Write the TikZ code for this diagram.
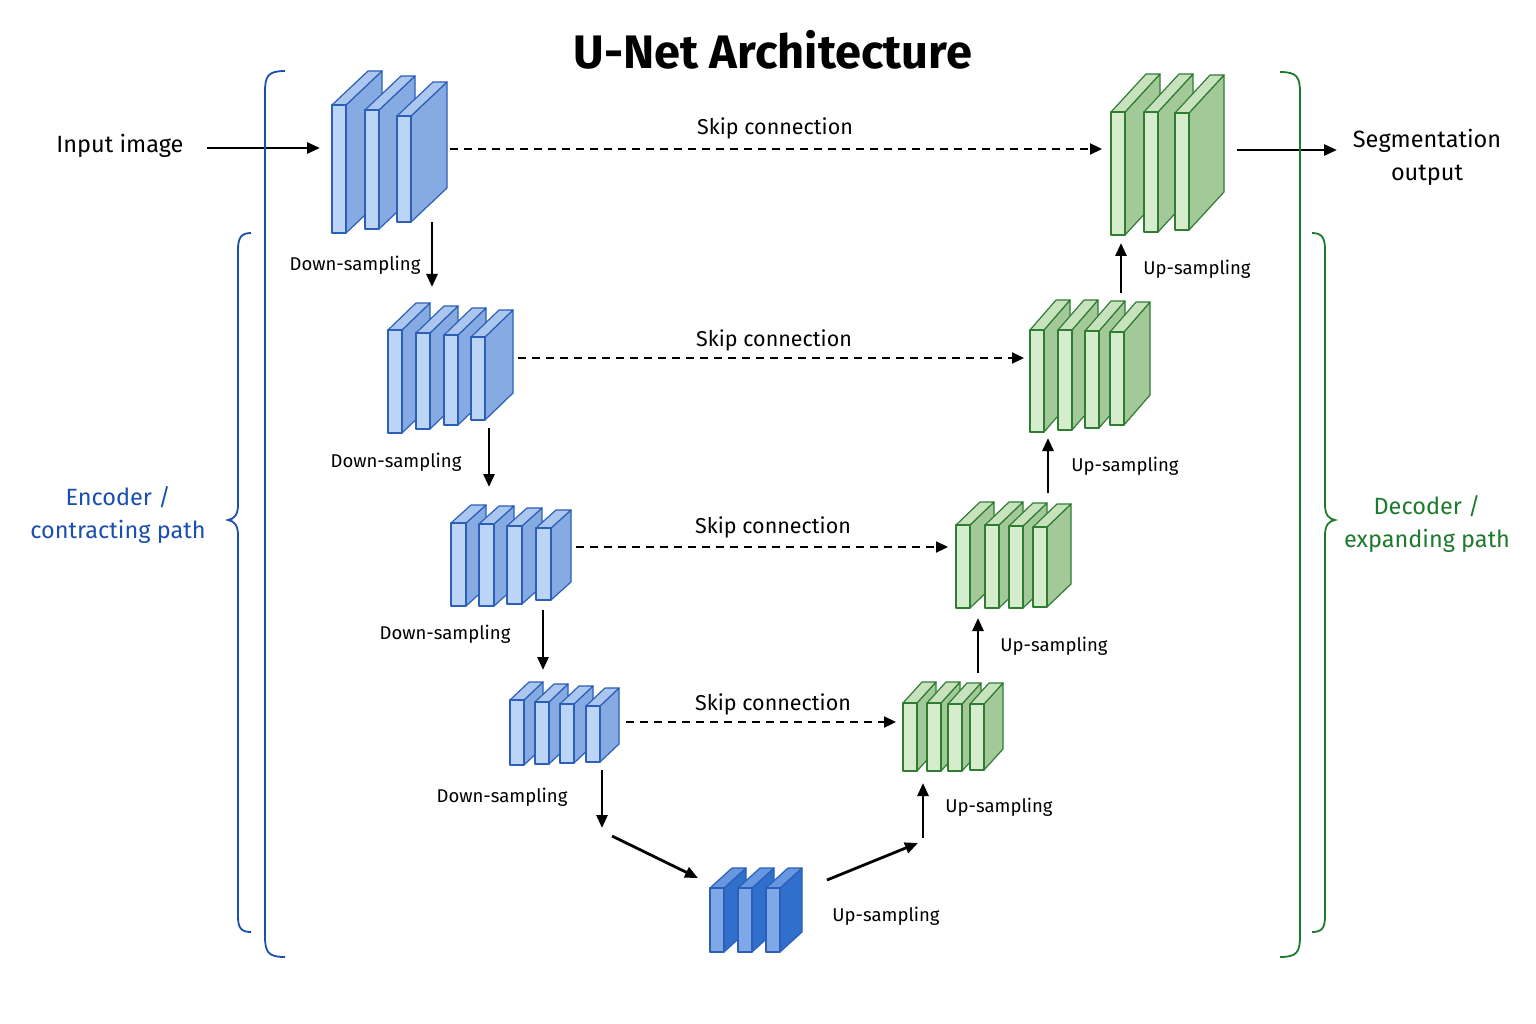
\documentclass[tikz,border=0pt]{standalone}
\usepackage{fontspec}
\setmainfont{Fira Sans}
\usetikzlibrary{arrows.meta}
\definecolor{bF}{HTML}{BCD4F5}\definecolor{bS}{HTML}{86AAE2}\definecolor{bE}{HTML}{2B5FB8}
\definecolor{dF}{HTML}{7FA8E8}\definecolor{dS}{HTML}{3070CC}
\definecolor{gF}{HTML}{D6EDCD}\definecolor{gS}{HTML}{A3C998}\definecolor{gE}{HTML}{2E7D32}
\definecolor{encT}{HTML}{1A4FB0}\definecolor{decT}{HTML}{1E7A2E}
% \slabX{x}{top}{bot}{fw}{dx}{dy}{front}{side}{edge}
\newcommand{\slabX}[9]{%
 \filldraw[draw=#9,line width=1.2pt,fill=#8,line join=round] (#1+#4,#3)--(#1+#4,#2)--(#1+#4+#5,#2-#6)--(#1+#4+#5,#3-#6)--cycle;
 \filldraw[draw=#9,line width=1.2pt,fill=#7!70!#8,line join=round] (#1,#2)--(#1+#4,#2)--(#1+#4+#5,#2-#6)--(#1+#5,#2-#6)--cycle;
 \filldraw[draw=#9,line width=1.2pt,fill=#7,line join=round] (#1,#2) rectangle (#1+#4,#3);}
\tikzset{
 lbl/.style={font=\fontsize{18.5}{21}\selectfont,inner sep=0pt},
 skl/.style={font=\fontsize{21.5}{24}\selectfont,inner sep=0pt},
 big/.style={font=\fontsize{23.5}{33}\selectfont,inner sep=0pt,align=center},
 arr/.style={-{Triangle[length=13pt,width=11pt]},line width=2.8pt},
 skip/.style={-{Triangle[length=12pt,width=11pt]},line width=2.2pt,dash pattern=on 8pt off 6pt},
}
\begin{document}
\begin{tikzpicture}[x=1pt,y=-1pt]
\useasboundingbox (0,0) rectangle (1536,1024);
\fill[white] (0,0) rectangle (1536,1024);
\node[font=\fontsize{47}{52}\selectfont\bfseries] (title) at (773,50) {U-Net Architecture};
% encoder blocks
\foreach \x/\t/\b in {332/105/233,365/110/229,397/116/222}{\slabX{\x}{\t}{\b}{14}{36}{34}{bF}{bS}{bE}}
\foreach \x/\t/\b in {388/330/433,416/333/429,444/335/425,471/337/420}{\slabX{\x}{\t}{\b}{14}{28}{27}{bF}{bS}{bE}}
\foreach \x/\t/\b in {451/523/606,479/524/606,507/526/604,536/528/600}{\slabX{\x}{\t}{\b}{15}{20}{18}{bF}{bS}{bE}}
\foreach \x/\t/\b in {510/700/765,535/702/764,560/704/763,586/706/762}{\slabX{\x}{\t}{\b}{14}{19}{18}{bF}{bS}{bE}}
\foreach \x/\t/\b in {710/888/952,738/888/952,766/888/952}{\slabX{\x}{\t}{\b}{14}{22}{20}{dF}{dS}{bE}}
% decoder blocks
\foreach \x/\t/\b in {903/703/771,927/703/771,948/704/771,970/704/770}{\slabX{\x}{\t}{\b}{14}{19}{21}{gF}{gS}{gE}}
\foreach \x/\t/\b in {956/525/608,985/525/608,1009/526/608,1033/527/607}{\slabX{\x}{\t}{\b}{14}{24}{23}{gF}{gS}{gE}}
\foreach \x/\t/\b in {1030/330/432,1058/330/430,1085/331/428,1110/332/425}{\slabX{\x}{\t}{\b}{14}{26}{30}{gF}{gS}{gE}}
\foreach \x/\t/\b in {1111/112/235,1144/112/232,1175/113/230}{\slabX{\x}{\t}{\b}{14}{35}{38}{gF}{gS}{gE}}
% anchor coordinates
\coordinate (inS) at (207,148); \coordinate (inE) at (320,148);
\coordinate (e1s) at (450,149); \coordinate (d1s) at (1102,149);
\coordinate (e2s) at (518,358); \coordinate (d2s) at (1024,358);
\coordinate (e3s) at (576,547); \coordinate (d3s) at (948,547);
\coordinate (e4s) at (626,722); \coordinate (d4s) at (896,722);
\coordinate (outS) at (1237,150); \coordinate (outE) at (1337,150);
% text
\node[big] (inp) at (120,146) {Input image};
\node[big] (seg) at (1427,157) {Segmentation\\output};
\node[big,text=encT] (enc) at (118,515) {Encoder /\\contracting path};
\node[big,text=decT] (dec) at (1427,524) {Decoder /\\expanding path};
\draw[arr] (inS)--(inE);
\draw[arr] (outS)--(outE);
\draw[skip] (e1s)--(d1s); \node[skl] (s1) at (775,128) {Skip connection};
\draw[skip] (e2s)--(d2s); \node[skl] (s2) at (774,340) {Skip connection};
\draw[skip] (e3s)--(d3s); \node[skl] (s3) at (773,527) {Skip connection};
\draw[skip] (e4s)--(d4s); \node[skl] (s4) at (773,704) {Skip connection};
% down
\draw[arr] (432,222)--(432,287); \node[lbl] (dn1) at (355,265) {Down-sampling};
\draw[arr] (489,428)--(489,487); \node[lbl] (dn2) at (396,462) {Down-sampling};
\draw[arr] (543,610)--(543,670); \node[lbl] (dn3) at (445,634) {Down-sampling};
\draw[arr] (602,770)--(602,828); \node[lbl] (dn4) at (502,797) {Down-sampling};
\draw[arr] (612,836)--(698,878);
\draw[arr] (827,880)--(918,843); \node[lbl] (up0) at (886,916) {Up-sampling};
\draw[arr] (923,838)--(923,783); \node[lbl] (up1) at (999,807) {Up-sampling};
\draw[arr] (978,673)--(978,618); \node[lbl] (up2) at (1054,646) {Up-sampling};
\draw[arr] (1048,493)--(1048,438); \node[lbl] (up3) at (1125,466) {Up-sampling};
\draw[arr] (1121,293)--(1121,243); \node[lbl] (up4) at (1197,269) {Up-sampling};
% braces
\draw[encT,line width=1.8pt] (285,71) .. controls (268,71) and (265,76) .. (265,92) -- (265,936) .. controls (265,952) and (268,957) .. (285,957);
\draw[encT,line width=1.8pt] (251,233) .. controls (241,233) and (238,238) .. (238,250) -- (238,505) .. controls (238,515) and (234,519) .. (228,520) .. controls (234,521) and (238,525) .. (238,535) -- (238,916) .. controls (238,928) and (241,932) .. (251,932);
\draw[decT,line width=1.8pt] (1280,72) .. controls (1297,72) and (1300,77) .. (1300,93) -- (1300,936) .. controls (1300,952) and (1297,957) .. (1280,957);
\draw[decT,line width=1.8pt] (1312,233) .. controls (1322,233) and (1325,238) .. (1325,250) -- (1325,505) .. controls (1325,515) and (1329,519) .. (1335,520) .. controls (1329,521) and (1325,525) .. (1325,535) -- (1325,916) .. controls (1325,928) and (1322,932) .. (1312,932);
\end{tikzpicture}
\end{document}
